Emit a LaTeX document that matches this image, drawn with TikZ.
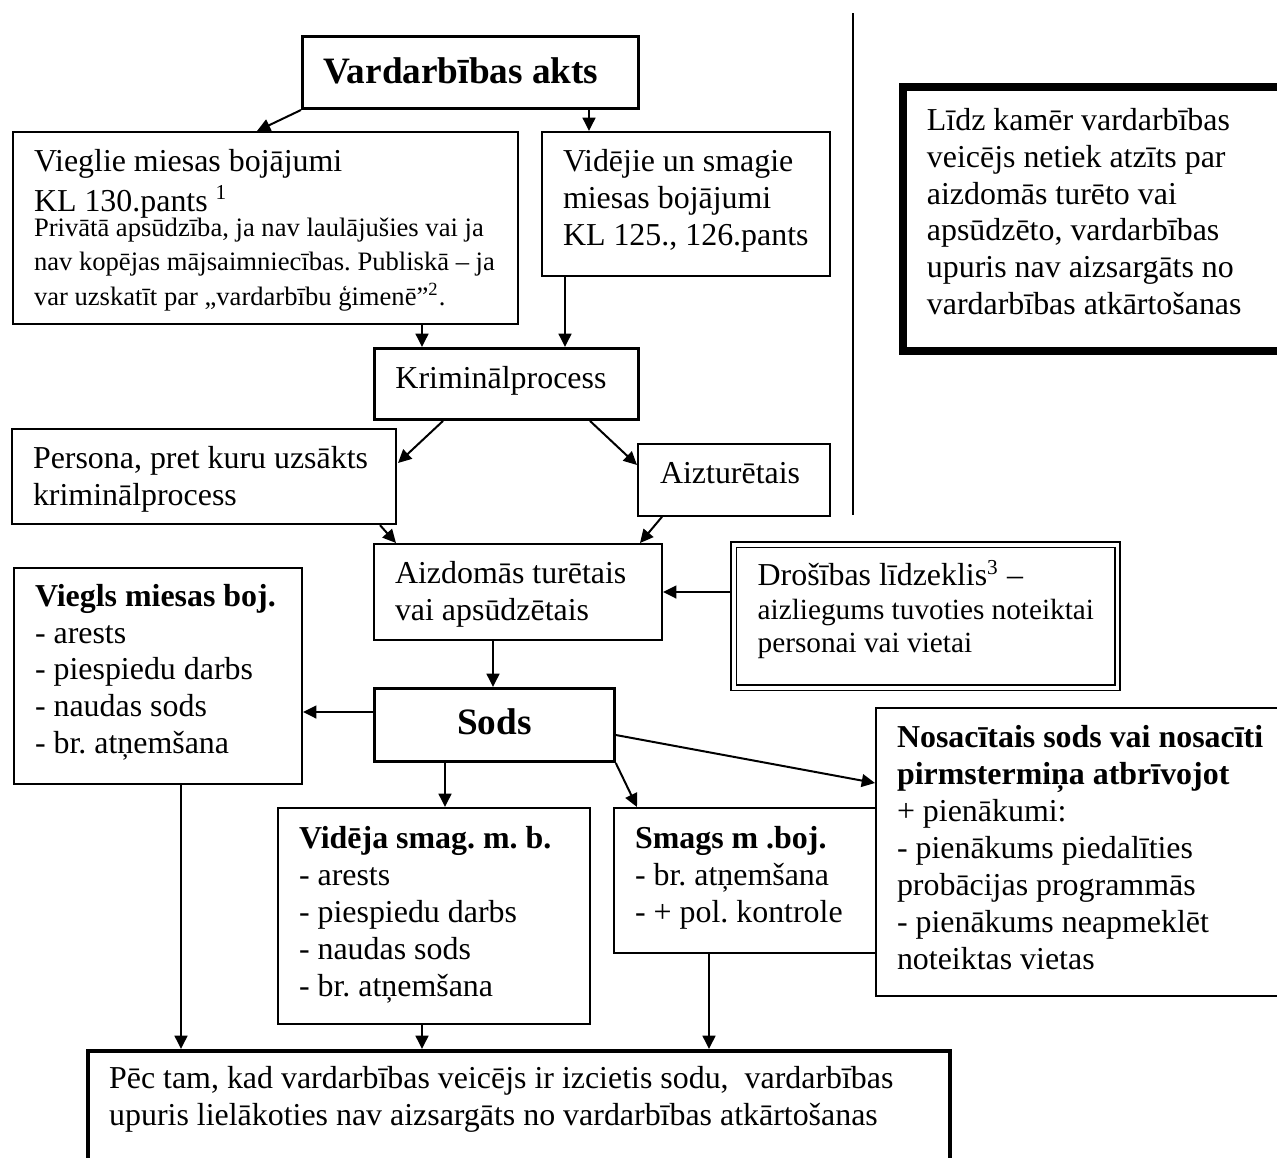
\documentclass[tikz,border=0pt]{standalone}
\usepackage{fontspec}
\setmainfont{Liberation Serif}
\usetikzlibrary{arrows.meta,calc}

\begin{document}
\begin{tikzpicture}[
	x=0.376pt, y=-0.376pt,
	box/.style={
		draw, line width=0.75pt, anchor=north west, align=flush left,
		inner xsep=7.9pt, inner ysep=0pt,
		font=\fontsize{12}{13.9}\selectfont\frenchspacing
	},
	strongbox/.style={box, line width=1.1pt},
	arr/.style={-{Triangle[length=5pt,width=4.8pt]}, line width=0.75pt}
]
	\useasboundingbox (0,0) rectangle (1277,1158);
	\clip (0,0) rectangle (1277,1158);
	\fill[white] (0,0) rectangle (1277,1158);

	% Top
	\node[strongbox, text width=110.5pt, text height=17.7pt, text depth=9.4pt,
		font=\fontsize{14}{16}\selectfont\bfseries] (akts) at (301,35) {Vardarbības akts};
	\node[box, text width=174.1pt, text height=14.7pt, text depth=57.5pt] (vieglie) at (12,131) {
		Vieglie miesas bojājumi\\[1.2pt]
		KL 130.pants \textsuperscript{1}\par
		\vspace{-3.6pt}{\fontsize{10}{13}\selectfont
		Privātā apsūdzība, ja nav laulājušies vai ja\\
		nav kopējas mājsaimniecības. Publiskā – ja\\
		var uzskatīt par „vardarbību ģimenē”\textsuperscript{2}.\par}};
	\node[box, text width=92.5pt, text height=14.7pt, text depth=39.5pt] (videjie) at (541,131)
		{Vidējie un smagie\\ miesas bojājumi\\ \mbox{KL 125., 126.pants}};
	\node[strongbox, text width=83.5pt, text height=15pt, text depth=11.7pt] (krim) at (373,347)
		{Kriminālprocess};
	\node[box, text width=128.6pt, text height=14.7pt, text depth=21.1pt] (persona) at (11,428)
		{\mbox{Persona, pret kuru uzsākts}\\ kriminālprocess};
	\node[box, inner xsep=8.3pt, text width=55.6pt, text height=15pt, text depth=12pt] (aiztur) at (637,443)
		{Aizturētais};
	\node[box, text width=92.5pt, text height=15pt, text depth=21.1pt] (aizdom) at (373,543)
		{Aizdomās turētais\\ vai apsūdzētais};
	\node[box, double, double distance=1.4pt, line width=0.55pt, inner xsep=9pt,
		text width=126.3pt, text height=15.4pt, text depth=38.4pt] (drosiba) at (733,544)
		{Drošības līdzeklis\textsuperscript{3} –\par
		{\fontsize{11}{12.65}\selectfont \mbox{aizliegums tuvoties noteiktai}\\ personai vai vietai\par}};

	% Right side
	\draw[line width=0.75pt] (853,13) -- (853,515);
	\node[box, line width=3pt, inner xsep=9pt, text width=132.7pt, text height=16.2pt, text depth=83.1pt]
		(lidz) at (899,83)
		{Līdz kamēr vardarbības\\ veicējs netiek atzīts par\\ aizdomās turēto vai\\
		apsūdzēto, vardarbības\\ upuris nav aizsargāts no\\ vardarbības atkārtošanas};

	% Sentences
	\node[box, text width=92.5pt, text height=14.3pt, text depth=66.9pt] (viegls) at (13,567)
		{\mbox{\textbf{Viegls miesas boj.}}\\ - arests\\ - piespiedu darbs\\ - naudas sods\\ - br. atņemšana};
	\node[strongbox, align=center, text width=74.4pt, text height=17.3pt, text depth=10.2pt,
		font=\fontsize{14}{16}\selectfont\bfseries] (sods) at (373,687) {Sods};
	\node[box, text width=101.5pt, text height=15.4pt, text depth=65.8pt] (videja) at (277,807)
		{\textbf{Vidēja smag. m. b.}\\ - arests\\ - piespiedu darbs\\ - naudas sods\\ - br. atņemšana};
	\node[box, text width=82.7pt, text height=15.4pt, text depth=39.1pt] (smags) at (613,807)
		{\textbf{Smags m .boj.}\\ - br. atņemšana\\ - + pol. kontrole};
	\node[box, text width=144pt, text height=15pt, text depth=93.2pt] (nosac) at (875,707)
		{\textbf{Nosacītais sods vai nosacīti}\\ \textbf{pirmstermiņa atbrīvojot}\\ + pienākumi:\\
		- pienākums piedalīties\\ probācijas programmās\\ - pienākums neapmeklēt\\ noteiktas vietas};
	\node[box, line width=1.6pt, text width=308.3pt, text height=13.9pt, text depth=42.5pt] (beigas) at (86,1049)
		{\mbox{Pēc tam, kad vardarbības veicējs ir izcietis sodu,\ \ vardarbības}\\
		upuris lielākoties nav aizsargāts no vardarbības atkārtošanas};

	% Arrows
	\coordinate (c1) at ($(videjie.north west)+(48,0)$);
	\coordinate (c2) at ($(krim.north west)+(49,0)$);
	\coordinate (c3) at ($(videjie.south west)+(24,0)$);
	\coordinate (c4) at ($(drosiba.north west)+(-3,48)$);
	\coordinate (c5) at ($(aizdom.south west)+(120,0)$);
	\coordinate (c6) at ($(sods.north west)+(0,25)$);
	\coordinate (c7) at ($(videja.north west)+(168,0)$);
	\coordinate (c8) at ($(viegls.south west)+(168,0)$);
	\coordinate (c9) at ($(videja.south west)+(145,0)$);
	\coordinate (c10) at ($(smags.south west)+(96,0)$);
	\draw[arr] (akts.south west) -- ($(vieglie.north west)+(245,0)$);
	\draw[arr] (c1 |- akts.south) -- (c1);
	\draw[arr] (c2 |- vieglie.south) -- (c2);
	\draw[arr] (c3) -- (c3 |- krim.north);
	\draw[arr] ($(krim.south west)+(70,0)$) -- ($(persona.north east)+(1,35)$);
	\draw[arr] ($(krim.south west)+(217,0)$) -- ($(aiztur.north west)+(0,22)$);
	\draw[arr] ($(persona.south east)+(-17,0)$) -- ($(aizdom.north west)+(23,0)$);
	\draw[arr] ($(aiztur.south west)+(25,0)$) -- ($(aizdom.north east)+(-23,0)$);
	\draw[arr] (c4) -- (c4 -| aizdom.east);
	\draw[arr] (c5) -- (c5 |- sods.north);
	\draw[arr] (c6) -- (c6 -| viegls.east);
	\draw[arr] (c7 |- sods.south) -- (c7);
	\draw[arr] (sods.south east) -- ($(smags.north west)+(24,0)$);
	\draw[arr] ($(sods.north east)+(0,48)$) -- ($(nosac.north west)+(0,76)$);
	\draw[arr] (c8) -- (c8 |- beigas.north);
	\draw[arr] (c9) -- (c9 |- beigas.north);
	\draw[arr] (c10) -- (c10 |- beigas.north);
\end{tikzpicture}
\end{document}
